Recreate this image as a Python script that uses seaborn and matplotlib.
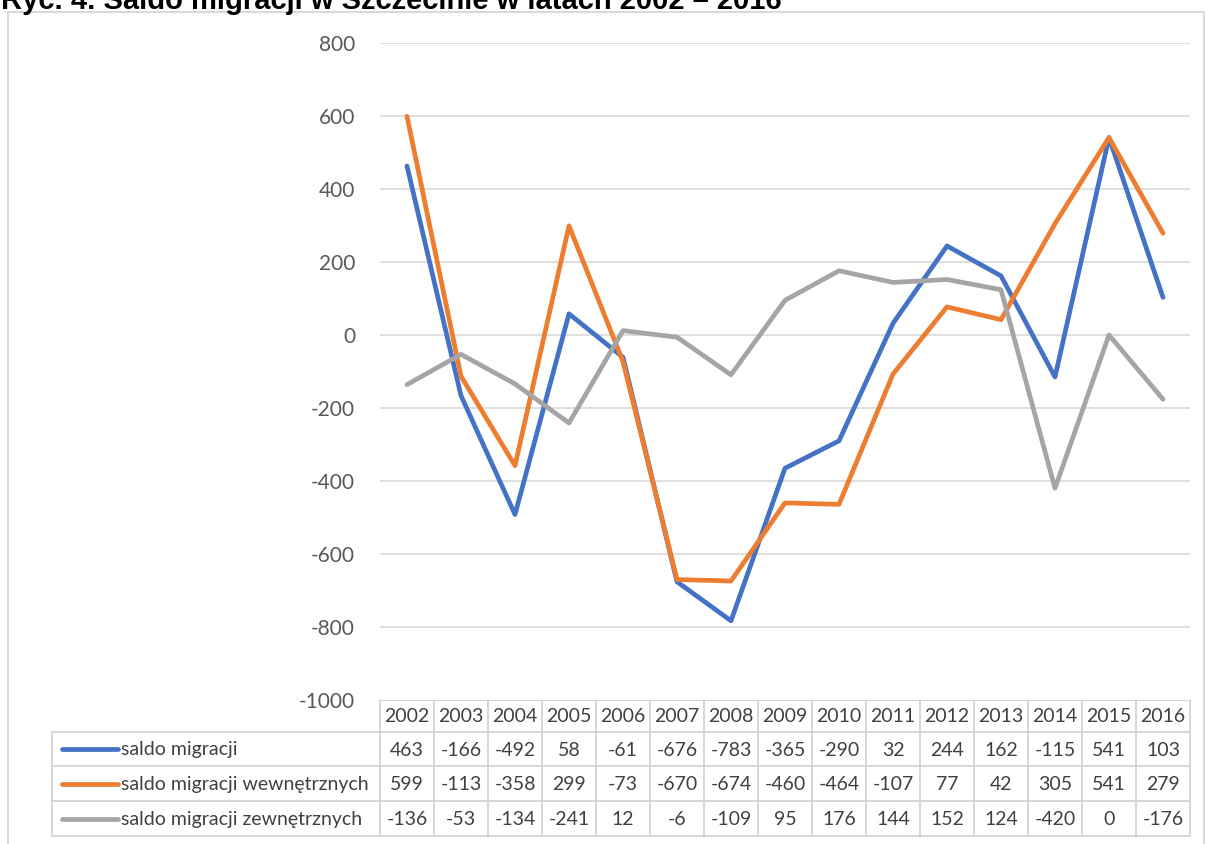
import matplotlib
matplotlib.use('Agg')
import matplotlib.pyplot as plt
import numpy as np
import pandas as pd
import seaborn as sns

YEARS = ['2002', '2003', '2004', '2005', '2006', '2007', '2008', '2009',
         '2010', '2011', '2012', '2013', '2014', '2015', '2016']
SALDO = [463, -166, -492, 58, -61, -676, -783, -365, -290, 32, 244, 162, -115, 541, 103]
SALDO_WEWN = [599, -113, -358, 299, -73, -670, -674, -460, -464, -107, 77, 42, 305, 541, 279]
SALDO_ZEWN = [-136, -53, -134, -241, 12, -6, -109, 95, 176, 144, 152, 124, -420, 0, -176]
SERIES = ['saldo migracji', 'saldo migracji wewnętrznych', 'saldo migracji zewnętrznych']
COLORS = ['#4472C4', '#ED7D31', '#A5A5A5']
TITLE = 'Ryc. 4. Saldo migracji w Szczecinie w latach 2002 – 2016'

W, H = 1205, 844
GRID = '#D9D9D9'
TEXT = '#595959'

df = pd.DataFrame({'rok': list(range(len(YEARS))) * 3,
                   'wartosc': SALDO + SALDO_WEWN + SALDO_ZEWN,
                   'seria': np.repeat(SERIES, len(YEARS))})

sns.set_style('white')
plt.rcParams['font.family'] = ['Lato', 'DejaVu Sans']
plt.rcParams['axes.unicode_minus'] = False

fig = plt.figure(figsize=(W / 100, H / 100), dpi=100)

## Overlay in pixel coordinates for the frame and the data table
over = fig.add_axes([0, 0, 1, 1])
over.set_xlim(0, W)
over.set_ylim(H, 0)
over.axis('off')

## Plot area in pixels
px0, px1, py0, py1 = 380, 1190, 43, 700
ax = fig.add_axes([px0 / W, 1 - py1 / H, (px1 - px0) / W, (py1 - py0) / H])
sns.lineplot(data=df, x='rok', y='wartosc', hue='seria', palette=COLORS,
             linewidth=3.4, ax=ax, legend=False)
ax.set_xlim(-0.5, len(YEARS) - 0.5)
ax.set_ylim(-1000, 800)
ax.set_yticks(np.arange(-1000, 801, 200))
ax.set_xticks([])
ax.set_xlabel('')
ax.set_ylabel('')
for y in range(-800, 801, 200):
    ax.axhline(y, color=GRID, lw=1.2, zorder=0)
for s in ax.spines.values():
    s.set_visible(False)
ax.tick_params(axis='y', length=0, pad=18, labelsize=15, labelcolor=TEXT)

## Outer frame
over.plot([8, 8, W - 1, W - 1], [H + 5, 12, 12, H + 5], color=GRID, lw=1.5)

## Title (clipped at the top as in the source)
fig.text(0.001, 1 - 9 / H, TITLE, ha='left', va='baseline', fontsize=21,
         fontweight='bold', family='Liberation Sans', color='black')

## Table
col_w = (px1 - px0) / len(YEARS)
rows = [py1, 732, 766, 801, 836]
leg_x = 52
tcol = '#D0D0D0'
tfs = 14
# header row
for i, yr in enumerate(YEARS):
    over.text(px0 + (i + 0.5) * col_w, (rows[0] + rows[1]) / 2 + 1, yr,
              ha='center', va='center', fontsize=tfs, color='#404040')
over.plot([px0, px1], [rows[0], rows[0]], color=tcol, lw=1.2)
for r in rows[1:]:
    over.plot([leg_x, px1], [r, r], color=tcol, lw=1.2)
for i in range(len(YEARS) + 1):
    over.plot([px0 + i * col_w] * 2, [rows[0], rows[-1]], color=tcol, lw=1.2)
over.plot([leg_x, leg_x], [rows[1], rows[-1]], color=tcol, lw=1.2)

for k, (name, vals, c) in enumerate(zip(SERIES, [SALDO, SALDO_WEWN, SALDO_ZEWN], COLORS)):
    yc = (rows[k + 1] + rows[k + 2]) / 2
    over.plot([62, 118], [yc, yc], color=c, lw=3.4, solid_capstyle='round')
    over.text(121, yc + 1, name, ha='left', va='center', fontsize=tfs, color='#404040')
    for i, v in enumerate(vals):
        over.text(px0 + (i + 0.5) * col_w, yc + 1, str(v), ha='center', va='center',
                  fontsize=tfs, color='#404040')

fig.savefig('out.png', dpi=100)
